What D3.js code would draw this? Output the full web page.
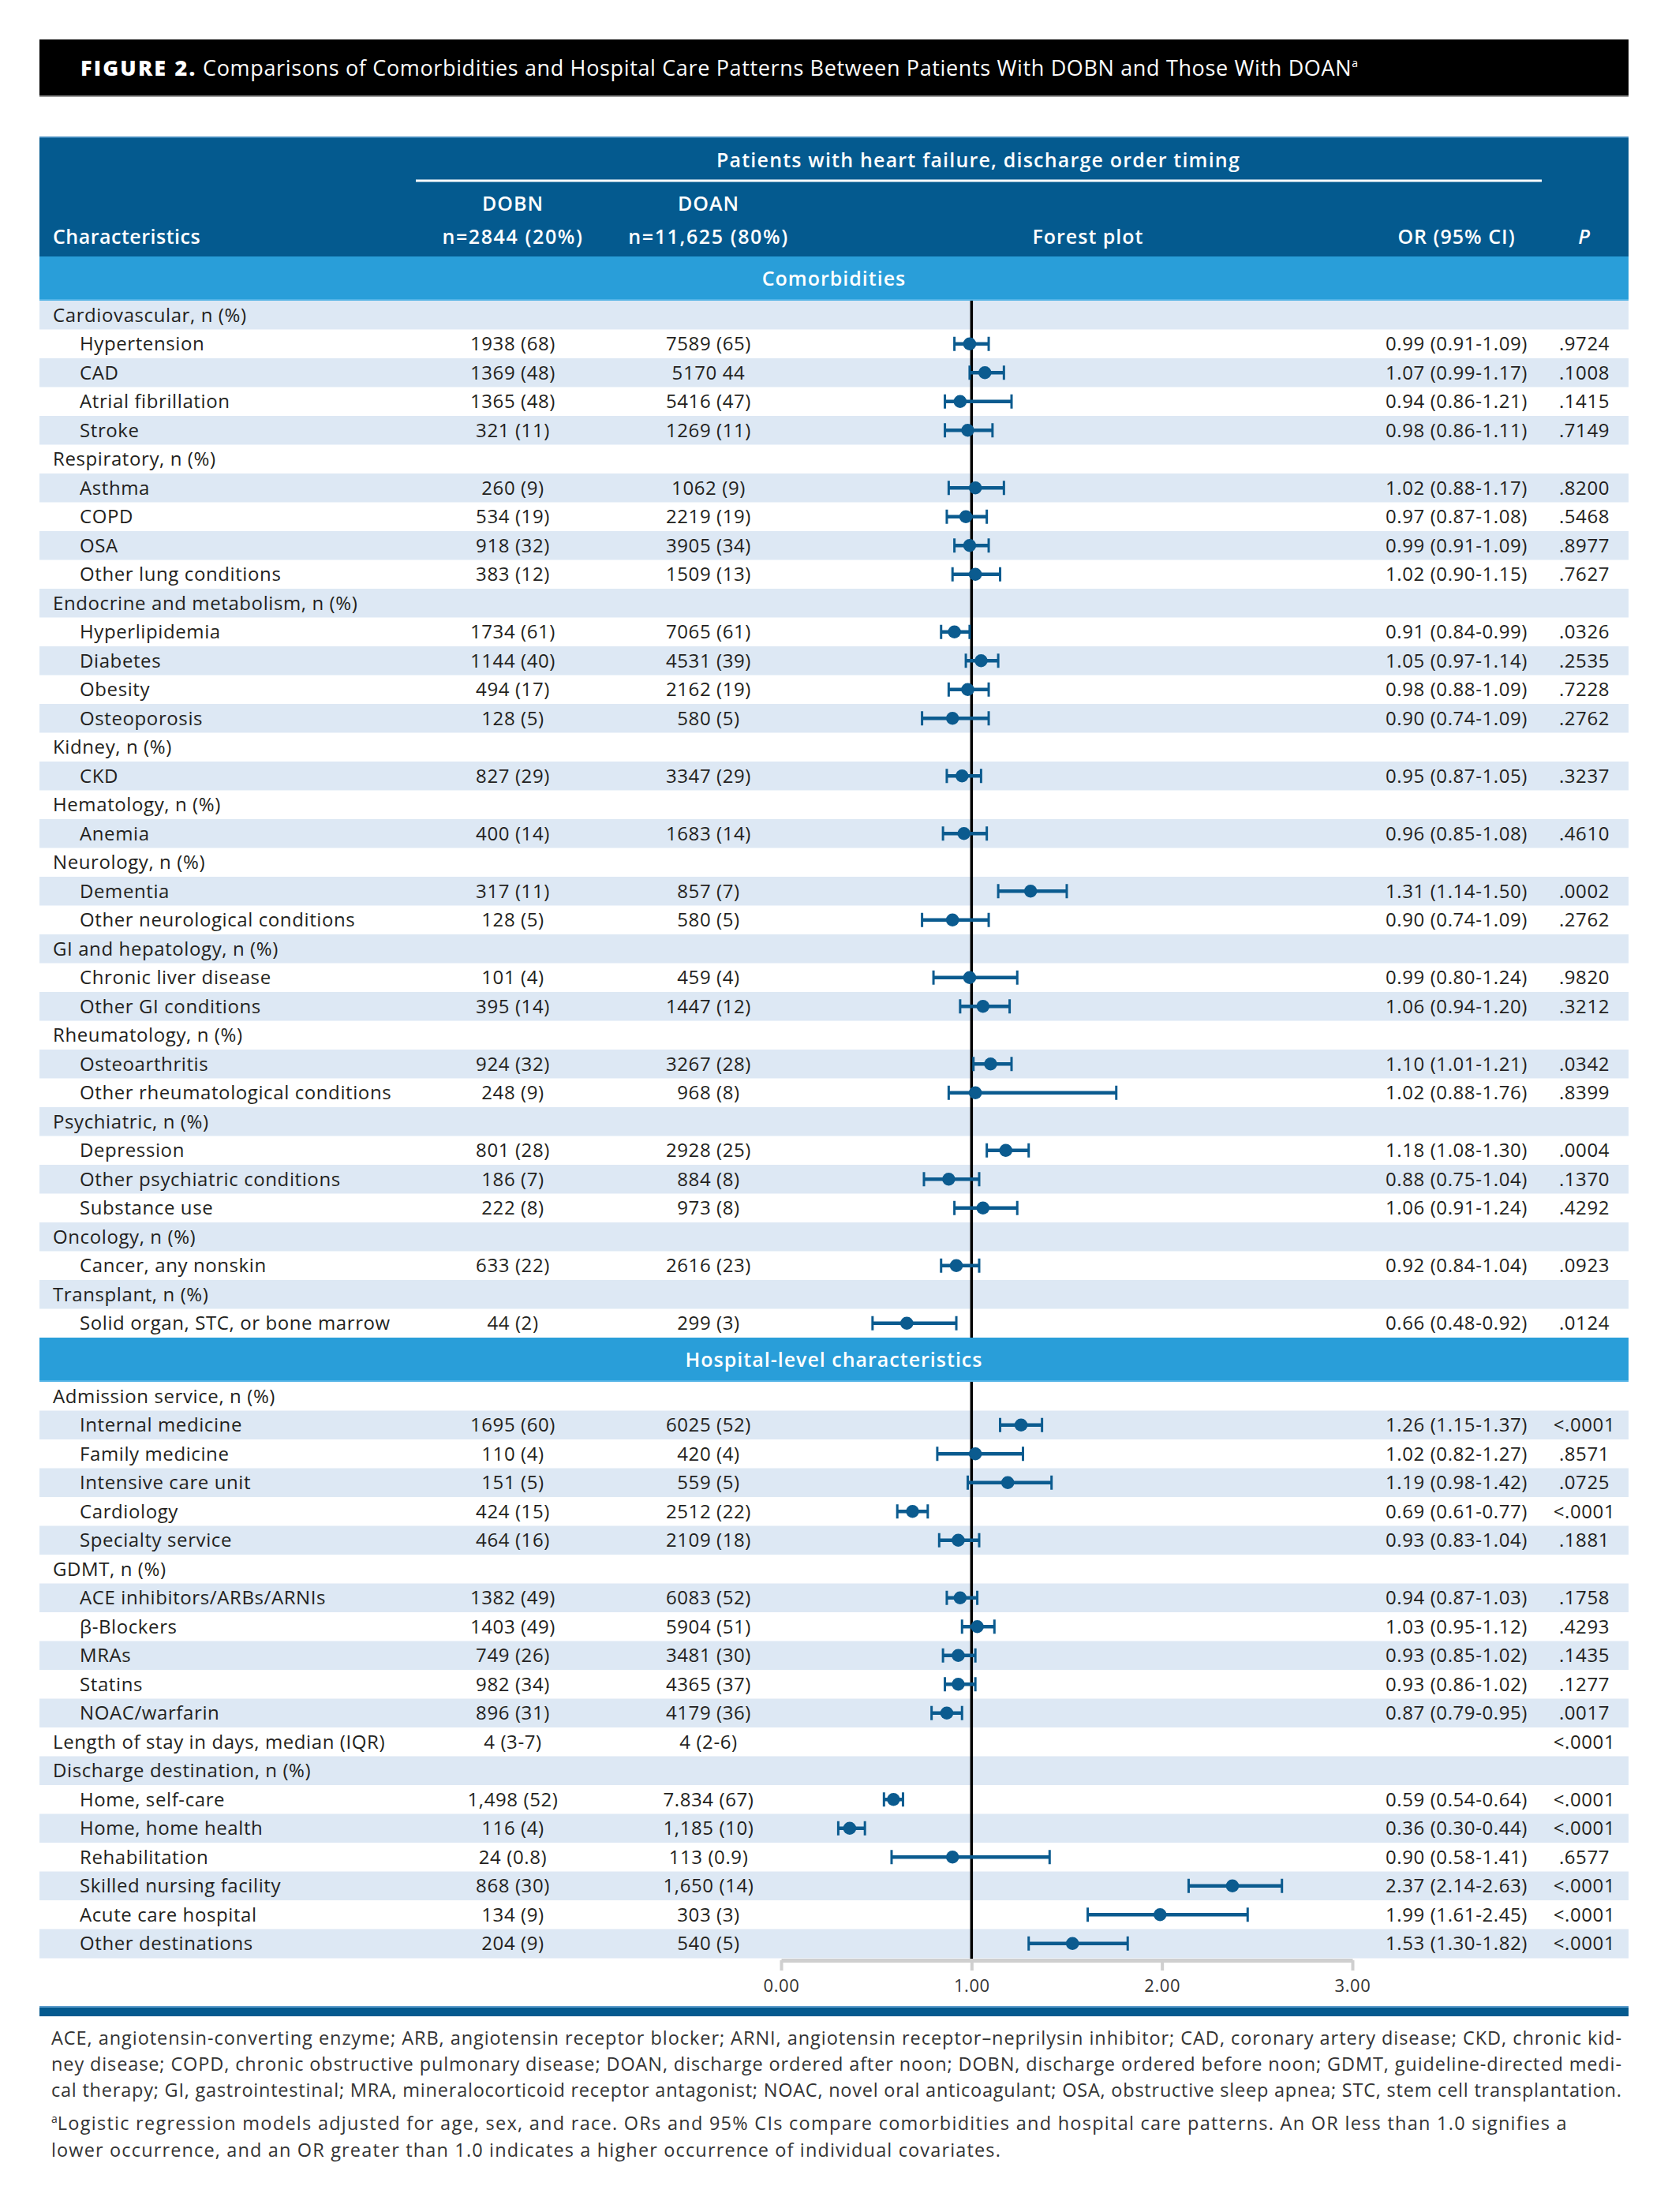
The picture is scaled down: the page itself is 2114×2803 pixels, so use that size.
<!DOCTYPE html>
<html><head><meta charset="utf-8">
<script src="https://cdn.jsdelivr.net/npm/d3@7"></script>
<style>
body{margin:0;background:#fff}
svg{display:block}
text{font-family:"Open Sans","Noto Sans",sans-serif}
</style>
</head><body><svg id="chart"></svg>
<script>
// ---------------- DATA ----------------
const titleBold = "FIGURE 2.";
const titleText = " Comparisons of Comorbidities and Hospital Care Patterns Between Patients With DOBN and Those With DOAN";
const spanningHeader = "Patients with heart failure, discharge order timing";
const columnHeads = ["Characteristics", "DOBN", "DOAN", "Forest plot", "OR (95% CI)", "P"];
const groupSizes = ["n=2844 (20%)", "n=11,625 (80%)"];
const sectionTitles = ["Comorbidities", "Hospital-level characteristics"];
const sectionSizes = [36, 20];

const rowLabels = [
 "Cardiovascular, n (%)","Hypertension","CAD","Atrial fibrillation","Stroke",
 "Respiratory, n (%)","Asthma","COPD","OSA","Other lung conditions",
 "Endocrine and metabolism, n (%)","Hyperlipidemia","Diabetes","Obesity","Osteoporosis",
 "Kidney, n (%)","CKD",
 "Hematology, n (%)","Anemia",
 "Neurology, n (%)","Dementia","Other neurological conditions",
 "GI and hepatology, n (%)","Chronic liver disease","Other GI conditions",
 "Rheumatology, n (%)","Osteoarthritis","Other rheumatological conditions",
 "Psychiatric, n (%)","Depression","Other psychiatric conditions","Substance use",
 "Oncology, n (%)","Cancer, any nonskin",
 "Transplant, n (%)","Solid organ, STC, or bone marrow",
 "Admission service, n (%)","Internal medicine","Family medicine","Intensive care unit","Cardiology","Specialty service",
 "GDMT, n (%)","ACE inhibitors/ARBs/ARNIs","β-Blockers","MRAs","Statins","NOAC/warfarin",
 "Length of stay in days, median (IQR)",
 "Discharge destination, n (%)","Home, self-care","Home, home health","Rehabilitation","Skilled nursing facility","Acute care hospital","Other destinations"
];
const rowLevel = [0,1,1,1,1, 0,1,1,1,1, 0,1,1,1,1, 0,1, 0,1, 0,1,1, 0,1,1, 0,1,1, 0,1,1,1, 0,1, 0,1,
 0,1,1,1,1,1, 0,1,1,1,1,1, 0, 0,1,1,1,1,1,1];
const dobnValues = [null,"1938 (68)","1369 (48)","1365 (48)","321 (11)", null,"260 (9)","534 (19)","918 (32)","383 (12)",
 null,"1734 (61)","1144 (40)","494 (17)","128 (5)", null,"827 (29)", null,"400 (14)", null,"317 (11)","128 (5)",
 null,"101 (4)","395 (14)", null,"924 (32)","248 (9)", null,"801 (28)","186 (7)","222 (8)", null,"633 (22)", null,"44 (2)",
 null,"1695 (60)","110 (4)","151 (5)","424 (15)","464 (16)", null,"1382 (49)","1403 (49)","749 (26)","982 (34)","896 (31)",
 "4 (3-7)", null,"1,498 (52)","116 (4)","24 (0.8)","868 (30)","134 (9)","204 (9)"];
const doanValues = [null,"7589 (65)","5170 44","5416 (47)","1269 (11)", null,"1062 (9)","2219 (19)","3905 (34)","1509 (13)",
 null,"7065 (61)","4531 (39)","2162 (19)","580 (5)", null,"3347 (29)", null,"1683 (14)", null,"857 (7)","580 (5)",
 null,"459 (4)","1447 (12)", null,"3267 (28)","968 (8)", null,"2928 (25)","884 (8)","973 (8)", null,"2616 (23)", null,"299 (3)",
 null,"6025 (52)","420 (4)","559 (5)","2512 (22)","2109 (18)", null,"6083 (52)","5904 (51)","3481 (30)","4365 (37)","4179 (36)",
 "4 (2-6)", null,"7.834 (67)","1,185 (10)","113 (0.9)","1,650 (14)","303 (3)","540 (5)"];
const oddsRatios = [null,0.99,1.07,0.94,0.98, null,1.02,0.97,0.99,1.02, null,0.91,1.05,0.98,0.90, null,0.95, null,0.96,
 null,1.31,0.90, null,0.99,1.06, null,1.10,1.02, null,1.18,0.88,1.06, null,0.92, null,0.66,
 null,1.26,1.02,1.19,0.69,0.93, null,0.94,1.03,0.93,0.93,0.87, null, null,0.59,0.36,0.90,2.37,1.99,1.53];
const ciLower = [null,0.91,0.99,0.86,0.86, null,0.88,0.87,0.91,0.90, null,0.84,0.97,0.88,0.74, null,0.87, null,0.85,
 null,1.14,0.74, null,0.80,0.94, null,1.01,0.88, null,1.08,0.75,0.91, null,0.84, null,0.48,
 null,1.15,0.82,0.98,0.61,0.83, null,0.87,0.95,0.85,0.86,0.79, null, null,0.54,0.30,0.58,2.14,1.61,1.30];
const ciUpper = [null,1.09,1.17,1.21,1.11, null,1.17,1.08,1.09,1.15, null,0.99,1.14,1.09,1.09, null,1.05, null,1.08,
 null,1.50,1.09, null,1.24,1.20, null,1.21,1.76, null,1.30,1.04,1.24, null,1.04, null,0.92,
 null,1.37,1.27,1.42,0.77,1.04, null,1.03,1.12,1.02,1.02,0.95, null, null,0.64,0.44,1.41,2.63,2.45,1.82];
const pValues = [null,".9724",".1008",".1415",".7149", null,".8200",".5468",".8977",".7627", null,".0326",".2535",".7228",".2762",
 null,".3237", null,".4610", null,".0002",".2762", null,".9820",".3212", null,".0342",".8399", null,".0004",".1370",".4292",
 null,".0923", null,".0124",
 null,"<.0001",".8571",".0725","<.0001",".1881", null,".1758",".4293",".1435",".1277",".0017","<.0001",
 null,"<.0001","<.0001",".6577","<.0001","<.0001","<.0001"];
const axisTicks = [0, 1, 2, 3];
const axisTickLabels = ["0.00", "1.00", "2.00", "3.00"];
const referenceOR = 1;
const footnoteLines = [
 "ACE, angiotensin-converting enzyme; ARB, angiotensin receptor blocker; ARNI, angiotensin receptor–neprilysin inhibitor; CAD, coronary artery disease; CKD, chronic kid-",
 "ney disease; COPD, chronic obstructive pulmonary disease; DOAN, discharge ordered after noon; DOBN, discharge ordered before noon; GDMT, guideline-directed medi-",
 "cal therapy; GI, gastrointestinal; MRA, mineralocorticoid receptor antagonist; NOAC, novel oral anticoagulant; OSA, obstructive sleep apnea; STC, stem cell transplantation."
];
const footnoteA = [
 "Logistic regression models adjusted for age, sex, and race. ORs and 95% CIs compare comorbidities and hospital care patterns. An OR less than 1.0 signifies a",
 "lower occurrence, and an OR greater than 1.0 indicates a higher occurrence of individual covariates."
];

// ---------------- LAYOUT ----------------
const W = 2114, H = 2803;
const L = 50, R = 2064;
const C = {
  dark: "#045a8f", section: "#299ed9", stripe: "#dde8f4", ink: "#231f20", mark: "#0b5b8f", axis: "#cfcfcf"
};
const svg = d3.select("#chart").attr("width", W).attr("height", H);
svg.append("rect").attr("width", W).attr("height", H).attr("fill", "#fff");

// spread a text element's letters so it spans a given width
function fitWidth(sel, target) {
  const w = sel.node().getComputedTextLength();
  const n = sel.text().length;
  const cur = parseFloat(sel.attr("letter-spacing") || 0);
  sel.attr("letter-spacing", cur + (target - w) / n);
}

// Title bar
svg.append("rect").attr("x", L).attr("y", 50).attr("width", R - L).attr("height", 72).attr("fill", "#000");
svg.append("rect").attr("x", L).attr("y", 121).attr("width", R - L).attr("height", 2).attr("fill", "#9a9a9a");
const title = svg.append("text").attr("x", 102).attr("y", 96).attr("fill", "#fff").attr("font-size", 27);
title.append("tspan").attr("font-weight", 800).attr("letter-spacing", 1.5).text(titleBold);
title.append("tspan").attr("font-weight", 500).text(titleText);
title.append("tspan").attr("font-size", 14).attr("dy", -11).text("a");

// Header
const hTop = 173, hBot = 325;
svg.append("rect").attr("x", L).attr("y", hTop).attr("width", R - L).attr("height", hBot - hTop).attr("fill", C.dark);
svg.append("rect").attr("x", L).attr("y", hTop).attr("width", R - L).attr("height", 2).attr("fill", "#3d86b9");
const hdr = svg.append("g").attr("fill", "#fff").attr("font-size", 25).attr("font-weight", 600).attr("letter-spacing", 1);
hdr.append("text").attr("x", 1240).attr("y", 212).attr("text-anchor", "middle").attr("letter-spacing", 1.2).text(spanningHeader);
svg.append("line").attr("x1", 527).attr("x2", 1954).attr("y1", 229).attr("y2", 229).attr("stroke", "#fff").attr("stroke-width", 3);
hdr.append("text").attr("x", 67).attr("y", 309).attr("letter-spacing", 0.5).text(columnHeads[0]);
hdr.append("text").attr("x", 650).attr("y", 267).attr("text-anchor", "middle").text(columnHeads[1]);
hdr.append("text").attr("x", 898).attr("y", 267).attr("text-anchor", "middle").text(columnHeads[2]);
hdr.append("text").attr("x", 650).attr("y", 309).attr("text-anchor", "middle").attr("letter-spacing", 1.6).text(groupSizes[0]);
hdr.append("text").attr("x", 898).attr("y", 309).attr("text-anchor", "middle").attr("letter-spacing", 1.6).text(groupSizes[1]);
hdr.append("text").attr("x", 1379).attr("y", 309).attr("text-anchor", "middle").text(columnHeads[3]);
hdr.append("text").attr("x", 1846).attr("y", 309).attr("text-anchor", "middle").text(columnHeads[4]);
hdr.append("text").attr("x", 2008).attr("y", 309).attr("text-anchor", "middle").attr("font-style", "italic").text(columnHeads[5]);

// Sections / rows
const rowH = 36.5, bandH = 56;
const x = d3.scaleLinear().domain([0, 3]).range([990, 1714]);
const rows = rowLabels.map((label, i) => ({
  label, level: rowLevel[i], dobn: dobnValues[i], doan: doanValues[i],
  or: oddsRatios[i], lo: ciLower[i], hi: ciUpper[i], p: pValues[i]
}));

let cursor = hBot;
const sectionLayout = [];
let start = 0;
sectionSizes.forEach((n, s) => {
  const bandTop = cursor;
  const rowsTop = bandTop + bandH;
  const y = d3.scaleBand().domain(d3.range(n)).range([rowsTop, rowsTop + n * rowH]);
  sectionLayout.push({ s, bandTop, rowsTop, y, items: rows.slice(start, start + n) });
  start += n;
  cursor = rowsTop + n * rowH;
});
const tableBottom = cursor;

// stripes
sectionLayout.forEach(sec => {
  svg.append("g").selectAll("rect").data(sec.items).join("rect")
    .attr("x", L).attr("width", R - L)
    .attr("y", (d, i) => sec.y(i)).attr("height", sec.y.bandwidth() + 0.5)
    .attr("fill", (d, i) => ((i + sec.s) % 2 === 0) ? C.stripe : "#fff");
});

// reference line
svg.append("line").attr("x1", x(referenceOR)).attr("x2", x(referenceOR))
  .attr("y1", sectionLayout[0].rowsTop).attr("y2", tableBottom + 2)
  .attr("stroke", "#000").attr("stroke-width", 3.5);

// section bands on top
sectionLayout.forEach(sec => {
  svg.append("rect").attr("x", L).attr("y", sec.bandTop).attr("width", R - L).attr("height", bandH).attr("fill", C.section);
  svg.append("rect").attr("x", L).attr("y", sec.bandTop + bandH - 2).attr("width", R - L).attr("height", 2).attr("fill", "#52b3e6");
  svg.append("text").attr("x", (L + R) / 2).attr("y", sec.bandTop + bandH / 2).attr("dy", "0.36em")
    .attr("text-anchor", "middle").attr("fill", "#fff").attr("font-size", 25).attr("font-weight", 600).attr("letter-spacing", 1)
    .text(sectionTitles[sec.s]);
});

// row content
sectionLayout.forEach(sec => {
  const g = svg.append("g").attr("font-size", 24).attr("fill", C.ink).attr("letter-spacing", 0.6);
  const rg = g.selectAll("g").data(sec.items).join("g")
    .attr("transform", (d, i) => `translate(0,${sec.y(i) + sec.y.bandwidth() / 2})`);
  rg.append("text").attr("x", d => d.level ? 101 : 67).attr("dy", "0.36em").text(d => d.label);
  rg.filter(d => d.dobn).append("text").attr("x", 650).attr("dy", "0.36em").attr("text-anchor", "middle").text(d => d.dobn);
  rg.filter(d => d.doan).append("text").attr("x", 898).attr("dy", "0.36em").attr("text-anchor", "middle").text(d => d.doan);
  rg.filter(d => d.or != null).append("text").attr("x", 1846).attr("dy", "0.36em").attr("text-anchor", "middle")
    .text(d => `${d.or.toFixed(2)} (${d.lo.toFixed(2)}-${d.hi.toFixed(2)})`);
  rg.filter(d => d.p).append("text").attr("x", 2008).attr("dy", "0.36em").attr("text-anchor", "middle").text(d => d.p);

  const fm = rg.filter(d => d.or != null).append("g").attr("stroke", C.mark).attr("fill", C.mark);
  fm.append("line").attr("x1", d => x(d.lo)).attr("x2", d => x(d.hi)).attr("stroke-width", 4.5);
  fm.append("line").attr("x1", d => x(d.lo)).attr("x2", d => x(d.lo)).attr("y1", -9).attr("y2", 9).attr("stroke-width", 3);
  fm.append("line").attr("x1", d => x(d.hi)).attr("x2", d => x(d.hi)).attr("y1", -9).attr("y2", 9).attr("stroke-width", 3);
  fm.append("circle").attr("cx", d => x(d.or)).attr("r", 8.3).attr("stroke", "none");
});

// axis
const axisG = svg.append("g").attr("transform", `translate(0,${tableBottom + 3})`)
  .call(d3.axisBottom(x).tickValues(axisTicks).tickFormat((d, i) => axisTickLabels[i]).tickSize(13).tickSizeOuter(0).tickPadding(11));
axisG.select(".domain").attr("stroke", C.axis).attr("stroke-width", 5);
axisG.selectAll(".tick line").attr("stroke", C.axis).attr("stroke-width", 4);
axisG.selectAll(".tick text").attr("font-size", 22).attr("fill", "#333").attr("letter-spacing", 0.6)
  .attr("font-family", '"Open Sans","Noto Sans",sans-serif');

// footer bar
svg.append("rect").attr("x", L).attr("y", 2542).attr("width", R - L).attr("height", 13).attr("fill", C.dark);
svg.append("rect").attr("x", L).attr("y", 2542).attr("width", R - L).attr("height", 2).attr("fill", "#5a9bcb");

// footnotes
const fn = svg.append("g").attr("font-size", 23.5).attr("fill", "#333");
footnoteLines.forEach((t, i) => {
  fn.append("text").attr("x", 65).attr("y", 2591 + i * 33).attr("textLength", 1990).attr("lengthAdjust", "spacing").text(t);
});
const fa = fn.append("text").attr("x", 65).attr("y", 2699);
fa.append("tspan").attr("font-size", 14).attr("dy", -9).text("a");
const faLine = fa.append("tspan").attr("dy", 9).text(footnoteA[0]);
const fa2 = fn.append("text").attr("x", 65).attr("y", 2733).text(footnoteA[1]);
fitWidth(faLine, 1989 - 75);
fitWidth(fa2, 1269 - 65);

// fit title width to reference span
(function(){
  const target = 1721 - 102;
  const w = title.node().getComputedTextLength();
  const n = (titleBold + titleText).length;
  const extra = (target - w) / n;
  title.selectAll("tspan").each(function(){
    const s = d3.select(this);
    const cur = parseFloat(s.attr("letter-spacing") || 0);
    s.attr("letter-spacing", cur + extra);
  });
})();
</script></body></html>
